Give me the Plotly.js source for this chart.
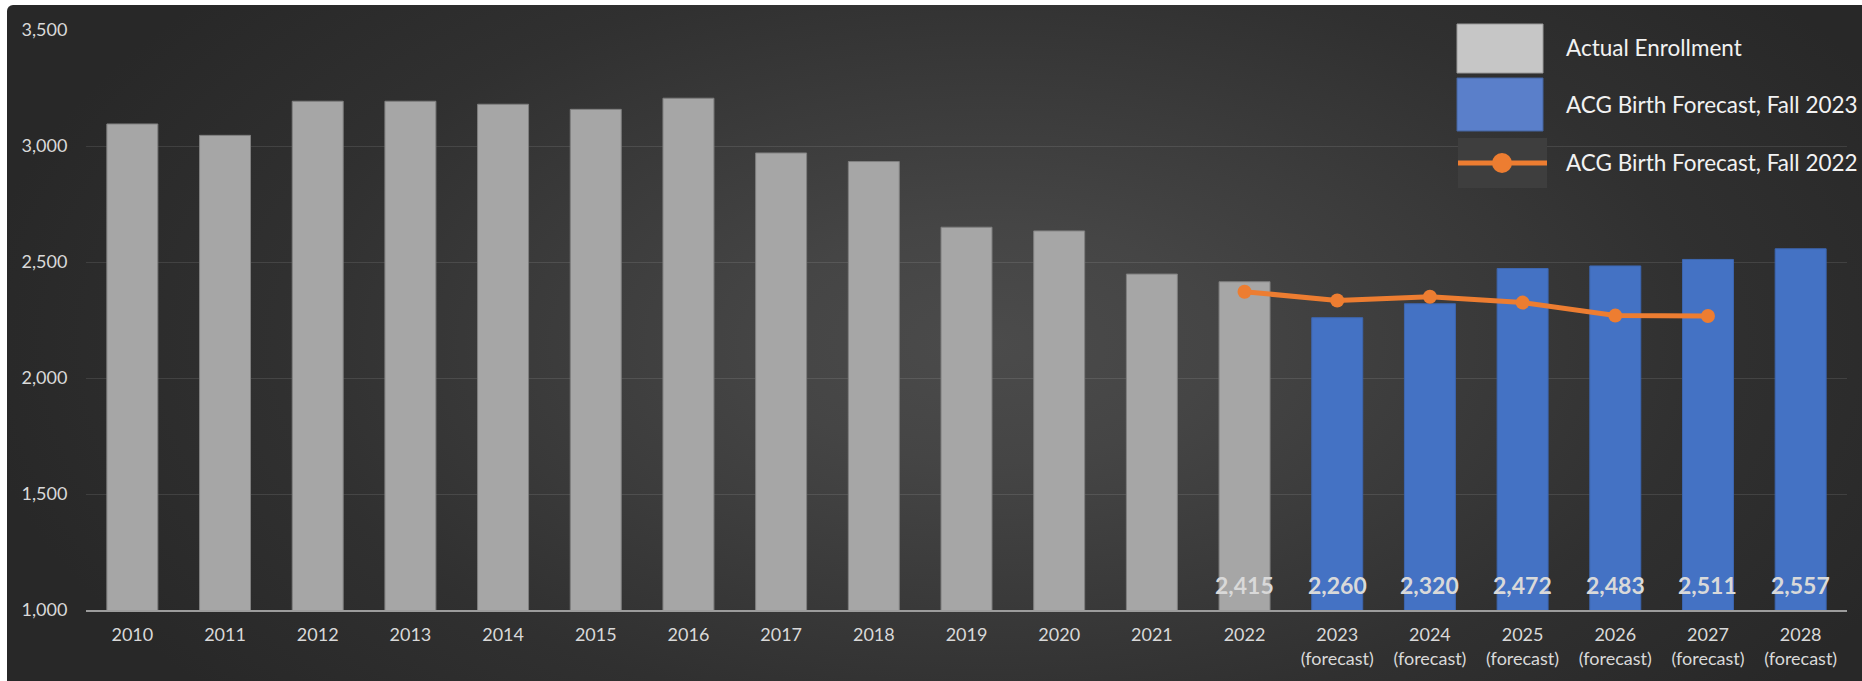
<!DOCTYPE html>
<html><head><meta charset="utf-8">
<script src="https://cdn.plot.ly/plotly-3.0.1.min.js"></script>
<style>
html,body{margin:0;padding:0;background:#fff;width:1862px;height:681px;overflow:hidden}
#bg{position:absolute;left:7px;top:5px;width:1855px;height:676px;border-top-left-radius:6px;
background:radial-gradient(ellipse 55% 80% at 53% 50%, #4b4b4b 0%, #454545 22%, #3b3b3b 45%, #303030 70%, #282828 100%);}
#chart{position:absolute;left:0;top:0;width:1862px;height:681px}
</style></head><body><div id="bg"></div><div id="chart"></div>
<script>
const actualYears = ['2010','2011','2012','2013','2014','2015','2016','2017','2018','2019','2020','2021','2022'];
const actualValues = [3095, 3046, 3193, 3193, 3180, 3158, 3206, 2970, 2933, 2650, 2634, 2448, 2415];
const forecastYears = ['2023','2024','2025','2026','2027','2028'];
const forecastValues = [2260, 2320, 2472, 2483, 2511, 2557];
const fall2022Years = ['2022','2023','2024','2025','2026','2027'];
const fall2022Values = [2372, 2334, 2350, 2325, 2269, 2267];
const labeledYears = ['2022','2023','2024','2025','2026','2027','2028'];
const labeledValues = [2415, 2260, 2320, 2472, 2483, 2511, 2557];
const allYears = actualYears.concat(forecastYears);
const tickLabels = allYears.map(y => forecastYears.includes(y) ? y + '<br>(forecast)' : y);
const seriesNames = ['Actual Enrollment', 'ACG Birth Forecast, Fall 2023', 'ACG Birth Forecast, Fall 2022'];

const FONT = 'Lato, "Open Sans", sans-serif';
const GREY = '#a6a6a6', BLUE = '#4472c4', ORANGE = '#ed7d31';

const traces = [
  {type:'bar', name:seriesNames[0], x:actualYears, y:actualValues, width:0.55,
   marker:{color:GREY, opacity:1, line:{color:'#7f7f7f', width:1}}, hoverinfo:'x+y', showlegend:false},
  {type:'bar', name:seriesNames[1], x:forecastYears, y:forecastValues, width:0.55,
   marker:{color:BLUE, opacity:1, line:{color:'#3d66b0', width:1}}, hoverinfo:'x+y', showlegend:false},
  {type:'scatter', mode:'lines+markers', name:seriesNames[2], x:fall2022Years, y:fall2022Values,
   line:{color:ORANGE, width:5}, marker:{color:ORANGE, size:14}, showlegend:false}
];

// plot area in px: x 86..1847, y 30..610
const PL = 86, PR = 1847, PT = 30, PB = 610;
const px = v => (v - PL) / (PR - PL);
const py = v => (PB - v) / (PB - PT);

const annotations = labeledYears.map((yr, i) => ({
  x: allYears.indexOf(yr), y: 1108, xref:'x', yref:'y', yanchor:'middle', xanchor:'center', showarrow:false,
  text: '<b>' + labeledValues[i].toLocaleString('en-US') + '</b>',
  font:{family:FONT, size:23, color:'#d9d9d9'}
}));

const legendText = [47, 104, 163];
seriesNames.forEach((n, i) => annotations.push({
  xref:'paper', yref:'paper', x:px(1564), y:py(legendText[i]), xanchor:'left', yanchor:'middle',
  showarrow:false, text:n, font:{family:FONT, size:22.5, color:'#f2f2f2'}
}));

const shapes = [
  {type:'rect', xref:'paper', yref:'paper', x0:px(1457), x1:px(1543), y0:py(73), y1:py(24),
   fillcolor:'#c6c6c6', line:{color:'#9a9a9a', width:1}, layer:'above'},
  {type:'rect', xref:'paper', yref:'paper', x0:px(1457), x1:px(1543), y0:py(131), y1:py(78),
   fillcolor:'#5a7fca', line:{color:'#45659f', width:1}, layer:'above'},
  {type:'rect', xref:'paper', yref:'paper', x0:px(1458), x1:px(1547), y0:py(188), y1:py(138),
   fillcolor:'#3e3e3e', line:{width:0}, layer:'above'},
  {type:'line', xref:'paper', yref:'paper', x0:px(1458), x1:px(1547), y0:py(163), y1:py(163),
   line:{color:ORANGE, width:5}, layer:'above'},
  {type:'circle', xref:'paper', yref:'paper', x0:px(1492), x1:px(1512), y0:py(173), y1:py(153),
   fillcolor:ORANGE, line:{color:ORANGE, width:0}, layer:'above'}
];

const layout = {
  width:1862, height:681,
  margin:{l:PL, r:1862-PR, t:PT, b:681-PB, pad:0},
  paper_bgcolor:'rgba(0,0,0,0)', plot_bgcolor:'rgba(0,0,0,0)',
  barmode:'overlay', showlegend:false,
  font:{family:FONT, color:'#d9d9d9', size:18},
  xaxis:{type:'category', categoryorder:'array', categoryarray:allYears,
    tickvals:allYears, ticktext:tickLabels, range:[-0.5, allYears.length-0.5],
    showgrid:false, showline:true, linecolor:'#9c9c9c', linewidth:1.5,
    ticks:'outside', ticklen:8, tickcolor:'rgba(0,0,0,0)',
    tickfont:{family:FONT, size:18, color:'#d9d9d9'}, zeroline:false},
  yaxis:{range:[1000, 3500], dtick:500, tick0:1000, tickformat:',',
    showgrid:true, gridcolor:'rgba(255,255,255,0.1)', gridwidth:1,
    showline:false, zeroline:false,
    ticks:'outside', ticklen:14, tickcolor:'rgba(0,0,0,0)',
    tickfont:{family:FONT, size:18, color:'#d9d9d9'}},
  annotations: annotations,
  shapes: shapes
};

Plotly.newPlot('chart', traces, layout, {displayModeBar:false, staticPlot:true});
</script></body></html>
